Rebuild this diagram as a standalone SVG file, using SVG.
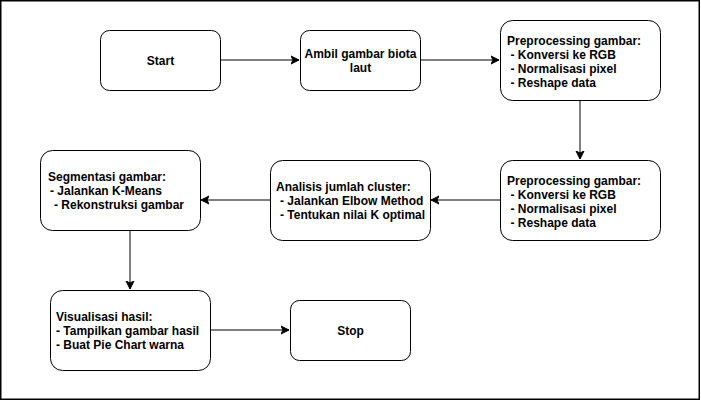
<svg xmlns="http://www.w3.org/2000/svg" width="701" height="401" viewBox="0 0 701 401">
<style>
.box{fill:#fff;stroke:#000;stroke-width:1}
.t{font-family:"Liberation Sans",Arial,sans-serif;font-size:12px;font-weight:bold;fill:#000}
.c{text-anchor:middle}
.ln{fill:none;stroke:#000;stroke-width:1}
</style>
<defs>
<marker id="arr" markerWidth="10" markerHeight="10" refX="8" refY="5" orient="auto" markerUnits="userSpaceOnUse">
<path d="M0,1 L8,5 L0,9 L2,5 Z" fill="#000" stroke="#000" stroke-width="1"/>
</marker>
</defs>
<rect x="0.75" y="0.75" width="698.5" height="398.5" fill="#fff" stroke="#000" stroke-width="1.5"/>
<g id="connectors">
<path class="ln" d="M220,60 L299,60" marker-end="url(#arr)"/>
<path class="ln" d="M420,60 L499,60" marker-end="url(#arr)"/>
<path class="ln" d="M580,100 L580,159" marker-end="url(#arr)"/>
<path class="ln" d="M500,200 L431,200" marker-end="url(#arr)"/>
<path class="ln" d="M270,200 L201,200" marker-end="url(#arr)"/>
<path class="ln" d="M130,230 L130,289" marker-end="url(#arr)"/>
<path class="ln" d="M210,330 L289,330" marker-end="url(#arr)"/>
</g>
<g id="start">
<rect class="box" x="100.5" y="30.5" width="120" height="60" rx="9"/>
<text class="t c" x="160.5" y="64.5">Start</text>
</g>
<g id="ambil">
<rect class="box" x="300.5" y="30.5" width="120" height="60" rx="9"/>
<text class="t c" x="360.5" y="57.5">Ambil gambar biota</text>
<text class="t c" x="360.5" y="71.5">laut</text>
</g>
<g id="preprocessing1">
<rect class="box" x="500.5" y="20.5" width="160" height="80" rx="12"/>
<text class="t" x="507" y="44.5">Preprocessing gambar:</text>
<text class="t" x="510.5" y="58.5">- Konversi ke RGB</text>
<text class="t" x="510.5" y="72.5">- Normalisasi pixel</text>
<text class="t" x="510.5" y="86.5">- Reshape data</text>
</g>
<g id="preprocessing2">
<rect class="box" x="500.5" y="160.5" width="160" height="80" rx="12"/>
<text class="t" x="507" y="184.5">Preprocessing gambar:</text>
<text class="t" x="510.5" y="198.5">- Konversi ke RGB</text>
<text class="t" x="510.5" y="212.5">- Normalisasi pixel</text>
<text class="t" x="510.5" y="226.5">- Reshape data</text>
</g>
<g id="analisis">
<rect class="box" x="270.5" y="160.5" width="160" height="80" rx="12"/>
<text class="t" x="276" y="190.5">Analisis jumlah cluster:</text>
<text class="t" x="280" y="204.5">- Jalankan Elbow Method</text>
<text class="t" x="280" y="218.5">- Tentukan nilai K optimal</text>
</g>
<g id="segmentasi">
<rect class="box" x="40.5" y="150.5" width="160" height="80" rx="12"/>
<text class="t" x="48" y="180.5">Segmentasi gambar:</text>
<text class="t" x="50" y="194.5">- Jalankan K-Means</text>
<text class="t" x="54" y="208.5">- Rekonstruksi gambar</text>
</g>
<g id="visualisasi">
<rect class="box" x="50.5" y="290.5" width="160" height="80" rx="12"/>
<text class="t" x="56" y="320.5">Visualisasi hasil:</text>
<text class="t" x="56" y="334.5">- Tampilkan gambar hasil</text>
<text class="t" x="56" y="348.5">- Buat Pie Chart warna</text>
</g>
<g id="stop">
<rect class="box" x="290.5" y="300.5" width="120" height="60" rx="9"/>
<text class="t c" x="350.5" y="334.5">Stop</text>
</g>
</svg>
